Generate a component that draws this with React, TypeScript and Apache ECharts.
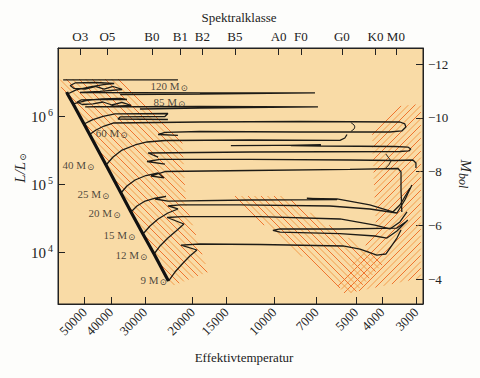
import React, { useEffect, useRef } from 'react';
import * as echarts from 'echarts';

const FONT = "'Liberation Serif', 'DejaVu Serif', serif";

// ---- axis ticks ----
const tempTicks = [50000, 40000, 30000, 20000, 15000, 10000, 7000, 5000, 4000, 3000];
const spectralClasses = ['O3', 'O5', 'B0', 'B1', 'B2', 'B5', 'A0', 'F0', 'G0', 'K0', 'M0'];
const spectralLogT = [4.715, 4.615, 4.451, 4.346, 4.265, 4.145, 3.984, 3.902, 3.751, 3.627, 3.552];
const lumTicks = [4, 5, 6];
const mbolTicks = [-12, -10, -8, -6, -4];

// ---- data: [log Teff, log L/Lsun] ----
const zams = [[4.765, 6.363], [4.762, 6.334], [4.741, 6.187], [4.701, 5.893], [4.620, 5.290], [4.565, 4.878], [4.528, 4.599], [4.484, 4.275], [4.443, 3.981], [4.390, 3.584]];

const track120Top = [[4.778, 6.540], [4.355, 6.540]];
const track120 = [[4.762, 6.334], [4.730, 6.393], [4.679, 6.437], [4.624, 6.474], [4.590, 6.488], [4.660, 6.503], [4.734, 6.496], [4.752, 6.459], [4.738, 6.415], [4.697, 6.407], [4.660, 6.444], [4.627, 6.407], [4.594, 6.444], [4.561, 6.400], [4.642, 6.371], [4.716, 6.356], [4.274, 6.351], [3.850, 6.349], [4.274, 6.331], [4.568, 6.326]];
const track85 = [[4.741, 6.187], [4.694, 6.238], [4.635, 6.260], [4.568, 6.268], [4.543, 6.253], [4.642, 6.253], [4.712, 6.246], [4.727, 6.216], [4.708, 6.179], [4.668, 6.187], [4.631, 6.216], [4.598, 6.172], [4.561, 6.209], [4.528, 6.165], [4.605, 6.150], [4.697, 6.143], [4.274, 6.150], [3.839, 6.143], [4.274, 6.125], [4.495, 6.113]];
const track60 = [[4.701, 5.893], [4.671, 5.952], [4.631, 6.003], [4.587, 6.040], [4.392, 6.047], [4.403, 6.003], [4.568, 5.996], [4.576, 5.966], [4.392, 5.959]];
const trackHairpin = [[4.683, 5.731], [4.657, 5.804], [4.627, 5.863], [4.594, 5.907], [4.274, 5.922], [3.905, 5.929], [3.537, 5.922], [3.519, 5.893], [3.515, 5.849], [3.530, 5.790], [3.574, 5.775], [3.905, 5.775], [4.274, 5.782], [4.403, 5.768], [4.428, 5.738], [4.355, 5.724]];
const track40 = [[4.620, 5.290], [4.594, 5.407], [4.561, 5.510], [4.513, 5.584], [4.469, 5.628], [4.403, 5.650], [4.090, 5.657], [3.758, 5.653], [3.740, 5.687], [3.732, 5.738]];
const loopA = [[4.428, 5.407], [4.465, 5.466], [4.090, 5.481], [3.537, 5.488], [3.504, 5.496], [3.497, 5.525], [3.508, 5.554], [3.555, 5.562], [3.828, 5.569], [3.939, 5.576], [3.828, 5.581], [4.160, 5.576]];
const loopB = [[4.403, 5.304], [4.469, 5.341], [4.421, 5.371], [4.090, 5.371], [3.721, 5.363], [3.555, 5.356], [3.489, 5.363], [3.478, 5.319], [3.478, 5.246]];
const track25 = [[4.565, 4.878], [4.543, 4.981], [4.513, 5.069], [4.473, 5.135], [4.428, 5.172], [4.406, 5.099], [4.454, 5.128], [4.403, 5.194], [4.090, 5.209], [3.721, 5.224], [3.544, 5.238], [3.533, 5.187], [3.533, 4.922], [3.530, 4.599]];
const track20 = [[4.528, 4.599], [4.506, 4.687], [4.476, 4.760], [4.439, 4.804], [4.399, 4.827], [4.439, 4.790], [4.392, 4.760], [4.090, 4.775], [3.769, 4.782], [3.880, 4.800], [3.769, 4.793], [3.648, 4.702], [3.563, 4.599], [3.537, 4.702], [3.500, 4.952]];
const track15 = [[4.484, 4.275], [4.458, 4.393], [4.428, 4.496], [4.392, 4.584], [4.355, 4.643], [4.392, 4.687], [4.347, 4.702], [4.126, 4.702], [3.795, 4.687], [3.648, 4.643], [3.548, 4.584], [3.519, 4.775], [3.493, 4.996]];
const track12 = [[4.443, 3.981], [4.421, 4.099], [4.392, 4.216], [4.362, 4.319], [4.333, 4.422], [4.395, 4.518], [4.340, 4.532], [4.053, 4.532], [3.758, 4.496], [3.629, 4.407], [3.574, 4.349], [3.537, 4.452], [3.511, 4.599]];
const blueLoop12 = [[3.511, 4.466], [3.548, 4.363], [3.758, 4.349], [3.979, 4.349], [4.005, 4.327], [3.979, 4.304], [3.758, 4.282], [3.629, 4.246], [3.585, 4.216], [3.548, 4.319], [3.508, 4.481]];
const track9 = [[4.390, 3.584], [4.366, 3.716], [4.336, 3.849], [4.311, 3.951], [4.285, 4.040], [4.344, 4.113], [4.274, 4.128], [4.053, 4.121], [3.747, 4.099], [3.684, 4.054], [3.622, 3.966], [3.589, 3.981], [3.548, 4.216], [3.533, 4.334]];
const bracket60 = [[3.718, 5.915], [3.706, 5.878], [3.703, 5.849], [3.706, 5.819], [3.718, 5.782]];
const bracket40 = [[3.589, 5.452], [3.578, 5.393], [3.570, 5.349], [3.578, 5.290], [3.589, 5.246]];

const massNames = ['120', '85', '60', '40', '25', '20', '15', '12', '9'];
const massLabelAt = [[4.458, 6.452], [4.447, 6.216], [4.660, 5.760], [4.782, 5.290], [4.727, 4.863], [4.686, 4.584], [4.631, 4.260], [4.587, 3.966], [4.495, 3.599]];

// hatched regions (outline vertices)
const hatchMS = [[4.789, 6.554], [4.568, 6.554], [4.340, 5.702], [4.325, 4.702], [4.244, 3.716], [4.377, 3.510], [4.767, 6.349], [4.789, 6.451]];
const hatchRed = [[3.640, 5.804], [3.537, 6.157], [3.460, 6.187], [3.460, 3.628], [3.740, 3.393], [3.765, 3.510], [3.625, 4.334], [3.633, 5.069]];
const hatchGap = [[4.167, 4.834], [3.961, 4.834], [3.592, 3.863], [3.703, 3.407], [3.740, 3.422]];

const hatchRegions = [hatchMS, hatchRed, hatchGap];
const hatchDirs = [1, -1, 1]; // 1: "\\" , -1: "/"

const tracks = [track120Top, track120, track85, track60, trackHairpin, track40, loopA, loopB, track25, track20, track15, track12, blueLoop12, track9];
const brackets = [bracket60, bracket40];

export default function App() {
  const ref = useRef<HTMLDivElement>(null);
  useEffect(() => {
    const chart = echarts.init(ref.current as HTMLDivElement, null, { renderer: 'svg' });
    const axisCommon = {
      axisLine: { show: true, lineStyle: { color: '#222', width: 1 } },
      splitLine: { show: false },
    };
    const hatchSeries: any = {
      type: 'custom',
      coordinateSystem: 'cartesian2d',
      silent: true,
      clip: true,
      z: 1,
      data: hatchRegions.map((r, i) => [r[0][0], r[0][1], i]),
      encode: { x: 0, y: 1 },
      renderItem: (params: any, api: any) => {
        const idx = api.value(2) as number;
        const poly = hatchRegions[idx].map((p) => api.coord(p));
        const dir = hatchDirs[idx];
        const f = (p: number[]) => (dir > 0 ? p[1] - p[0] : p[1] + p[0]);
        let kmin = Infinity;
        let kmax = -Infinity;
        poly.forEach((p: number[]) => {
          const v = f(p);
          if (v < kmin) kmin = v;
          if (v > kmax) kmax = v;
        });
        const s = 6.5;
        const children: any[] = [];
        for (let n = Math.ceil(kmin / s); n * s <= kmax; n++) {
          const k = n * s;
          const xs: number[][] = [];
          for (let i = 0; i < poly.length; i++) {
            const P = poly[i];
            const Q = poly[(i + 1) % poly.length];
            const a = f(P) - k;
            const b = f(Q) - k;
            if (a < 0 !== b < 0) {
              const t = a / (a - b);
              xs.push([P[0] + t * (Q[0] - P[0]), P[1] + t * (Q[1] - P[1])]);
            }
          }
          xs.sort((u, v) => u[0] - v[0]);
          for (let j = 0; j + 1 < xs.length; j += 2) {
            children.push({
              type: 'line',
              shape: { x1: xs[j][0], y1: xs[j][1], x2: xs[j + 1][0], y2: xs[j + 1][1] },
              style: { stroke: Math.abs(n) % 2 === 0 ? '#ef6f28' : '#f39a48', lineWidth: 0.95 },
            });
          }
        }
        return { type: 'group', children };
      },
    };

    const lineSeries = tracks.map((d) => ({
      type: 'line',
      data: d,
      symbol: 'none',
      silent: true,
      z: 3,
      lineStyle: { color: '#1d1b16', width: 1.3 },
    }));
    const bracketSeries = brackets.map((d) => ({
      type: 'line',
      data: d,
      symbol: 'none',
      silent: true,
      z: 3,
      lineStyle: { color: '#2a2720', width: 1 },
    }));

    const option: any = {
      animation: false,
      backgroundColor: '#fdfdfb',
      textStyle: { fontFamily: FONT },
      grid: {
        left: 58, right: 57, top: 48, bottom: 74,
        show: true, backgroundColor: '#f9dba6', borderColor: '#222', borderWidth: 1,
      },
      xAxis: [
        {
          type: 'value', position: 'bottom', min: 3.452, max: 4.797, inverse: true,
          ...axisCommon,
          axisTick: { inside: true, length: 7, lineStyle: { color: '#222' }, customValues: tempTicks.map((t) => Math.log10(t)) },
          axisLabel: {
            customValues: tempTicks.map((t) => Math.log10(t)),
            rotate: 45, margin: 6, fontFamily: FONT, fontSize: 13, color: '#222',
            formatter: (v: number) => String(Math.round(Math.pow(10, v))),
          },
        },
        {
          type: 'value', position: 'top', min: 3.452, max: 4.797, inverse: true,
          ...axisCommon,
          axisTick: { inside: true, length: 7, lineStyle: { color: '#222' }, customValues: spectralLogT },
          axisLabel: {
            customValues: spectralLogT, margin: 5, fontFamily: FONT, fontSize: 13, color: '#222',
            formatter: (v: number) => {
              const i = spectralLogT.findIndex((t) => Math.abs(t - v) < 1e-3);
              return i >= 0 ? spectralClasses[i] : '';
            },
          },
        },
      ],
      yAxis: [
        {
          type: 'value', position: 'left', min: 3.246, max: 7.01,
          ...axisCommon,
          axisTick: { inside: true, length: 7, lineStyle: { color: '#222' }, customValues: lumTicks },
          axisLabel: {
            customValues: lumTicks, margin: 5,
            formatter: (v: number) => `{b|10}{sup|${Math.round(v)}}`,
            rich: {
              b: { fontFamily: FONT, fontSize: 15, color: '#222' },
              sup: { fontFamily: FONT, fontSize: 10, color: '#222', padding: [0, 0, 9, 2] },
            },
          },
        },
        {
          type: 'value', position: 'right', min: -12.6, max: -3.08, inverse: true,
          ...axisCommon,
          axisTick: { inside: true, length: 7, lineStyle: { color: '#222' }, customValues: mbolTicks },
          axisLabel: {
            customValues: mbolTicks, margin: 5, fontFamily: FONT, fontSize: 13, color: '#222',
            formatter: (v: number) => '\u2212' + Math.abs(v),
          },
        },
      ],
      graphic: [
        { type: 'text', x: 239, y: 17, style: { text: 'Spektralklasse', font: `13px ${FONT}`, fill: '#222', align: 'center', verticalAlign: 'middle' } },
        { type: 'text', x: 244, y: 357, style: { text: 'Effektivtemperatur', font: `13px ${FONT}`, fill: '#222', align: 'center', verticalAlign: 'middle' } },
        {
          type: 'text', x: 20, y: 168, rotation: Math.PI / 2,
          style: {
            text: '{a|L/L}{s|\u2299}', align: 'center', verticalAlign: 'middle',
            rich: {
              a: { fontFamily: FONT, fontStyle: 'italic', fontSize: 15, fill: '#222' },
              s: { fontFamily: FONT, fontSize: 9, fill: '#222', padding: [6, 0, 0, 1] },
            },
          },
        },
        {
          type: 'text', x: 466, y: 174, rotation: -Math.PI / 2,
          style: {
            text: '{a|M}{s|bol}', align: 'center', verticalAlign: 'middle',
            rich: {
              a: { fontFamily: FONT, fontStyle: 'italic', fontSize: 15, fill: '#222' },
              s: { fontFamily: FONT, fontStyle: 'italic', fontSize: 12, fill: '#222', padding: [7, 0, 0, 1] },
            },
          },
        },
      ],
      series: [
        hatchSeries,
        ...lineSeries,
        ...bracketSeries,
        {
          type: 'line', data: zams, symbol: 'none', silent: true, z: 4,
          lineStyle: { color: '#111', width: 3.2 },
        },
        {
          type: 'scatter', data: massLabelAt, symbolSize: 1, silent: true, z: 5,
          itemStyle: { color: 'rgba(0,0,0,0)' },
          label: {
            show: true, position: 'right', distance: 0,
            formatter: (p: any) => `{m|${massNames[p.dataIndex]} M}{s|\u2299}`,
            rich: {
              m: { fontFamily: FONT, fontSize: 11, color: '#222' },
              s: { fontFamily: FONT, fontSize: 9, color: '#222', padding: [4, 0, 0, 1] },
            },
          },
        },
      ],
    };
    chart.setOption(option);
    return () => chart.dispose();
  }, []);
  return <div ref={ref} style={{ position: 'fixed', left: 0, top: 0, width: 480, height: 378 }} />;
}
